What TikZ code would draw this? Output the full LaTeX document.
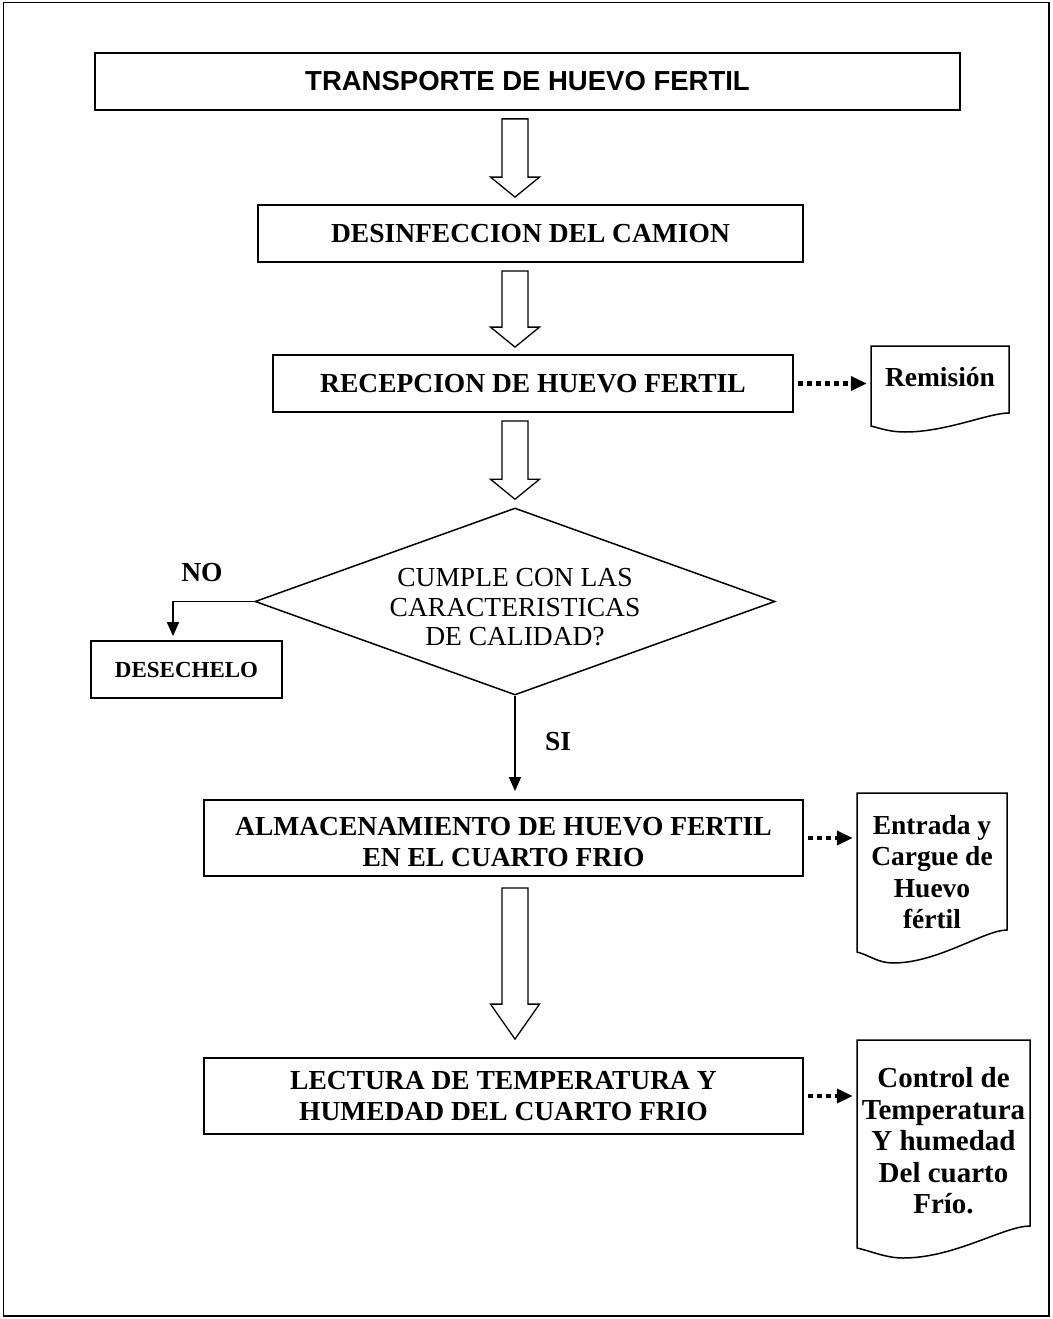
\documentclass[tikz,border=0pt]{standalone}
\usepackage{fontspec}
\setmainfont{Liberation Serif}
\newfontfamily\titlefont{Liberation Sans}
\usetikzlibrary{shapes.geometric,calc,arrows.meta}

% document symbol: flat top, wavy bottom (left, top, right, right-bottom, left-bottom, trough x, trough y)
\newcommand{\docoutline}[7]{%
  \draw[docline] (#1,#2) -- (#3,#2) -- (#3,#4)
    .. controls ({#3-0.15*(#3-#1)},#4) and ({#6+0.30*(#3-#1)},#7) .. (#6,#7)
    .. controls ({#6-0.10*(#3-#1)},#7) and ({#1+0.08*(#3-#1)},{#5+3}) .. (#1,#5) -- cycle;}

% hollow block arrow between two stacked nodes (from, to, top gap, tip gap, head length)
\newcommand{\blockarrow}[5]{%
  \draw[hollow] let \p1=(#1.south -| dia.south), \p2=(#2.north -| dia.south) in
    ({\x1-13pt},{\y1-#3pt}) -- ({\x1+13pt},{\y1-#3pt}) -- ({\x1+13pt},{\y2+#4pt+#5pt})
    -- ({\x1+24.5pt},{\y2+#4pt+#5pt}) -- ({\x1},{\y2+#4pt})
    -- ({\x1-24.5pt},{\y2+#4pt+#5pt}) -- ({\x1-13pt},{\y2+#4pt+#5pt}) -- cycle;}

\begin{document}
\begin{tikzpicture}[x=1pt,y=-1pt,
  procbox/.style={draw, line width=1.8pt, align=center, inner sep=0pt,
    font=\fontsize{27.5}{31}\selectfont\bfseries},
  doctext/.style={align=center, inner sep=0pt,
    font=\fontsize{27.5}{31.5}\selectfont\bfseries},
  docline/.style={line width=1.5pt, line join=miter},
  hollow/.style={line width=1.3pt, fill=white, line join=miter},
  flow/.style={line width=1.6pt, -{Triangle[length=14pt,width=12pt]}},
  dotflow/.style={line width=4.5pt, dash pattern=on 5pt off 4pt,
    -{Triangle[length=16pt,width=14pt]}},
  lbl/.style={font=\fontsize{27.5}{31}\selectfont\bfseries, inner sep=0pt}]
\useasboundingbox (0,0) rectangle (1052,1319);

% outer frame
\draw[line width=1.5pt] (3.5,2.5) rectangle (1049,1316);

% process boxes
\node[procbox, minimum width=865pt, minimum height=57pt,
      font=\titlefont\fontsize{27.5}{31}\selectfont\bfseries] (transp) at (527.5,81.5)
  {TRANSPORTE DE HUEVO FERTIL};
\node[procbox, minimum width=545pt, minimum height=57pt] (desinf) at (530.5,233.5)
  {DESINFECCION DEL CAMION};
\node[procbox, minimum width=520pt, minimum height=57pt] (recep) at (533,383.5)
  {RECEPCION DE HUEVO FERTIL};

% decision
\node[draw, line width=1.5pt, shape=diamond, inner sep=0pt,
      minimum width=520pt, minimum height=187pt] (dia) at (515,601.5) {};
\node[align=center, inner sep=0pt, font=\fontsize{27.5}{29.5}\selectfont]
  (diatext) at (515,607.5) {CUMPLE CON LAS\\CARACTERISTICAS\\DE CALIDAD?};

\node[procbox, minimum width=191pt, minimum height=57pt,
      font=\fontsize{23}{27}\selectfont\bfseries] (desech) at (186.5,669.5) {DESECHELO};
\node[procbox, minimum width=599pt, minimum height=76pt] (almac) at (503.5,838) {};
\node[align=center, inner sep=0pt, font=\fontsize{27.5}{31}\selectfont\bfseries]
  (almactext) at (503.5,842) {ALMACENAMIENTO DE HUEVO FERTIL\\EN EL CUARTO FRIO};
\node[procbox, minimum width=599pt, minimum height=76pt] (lect) at (503.5,1096)
  {LECTURA DE TEMPERATURA Y\\HUMEDAD DEL CUARTO FRIO};

% documents
\docoutline{871}{346}{1009}{413}{426}{905}{432}
\node[doctext, minimum width=138pt] (rem) at (940,377) {Remisión};
\docoutline{857}{793}{1007}{930}{952}{893}{963}
\node[doctext, minimum width=150pt] (entr) at (932,872) {Entrada y\\Cargue de\\Huevo\\fértil};
\docoutline{857}{1040}{1030}{1226}{1248}{903}{1258}
\node[doctext, minimum width=173pt, font=\fontsize{29}{31.5}\selectfont\bfseries]
  (ctrl) at (943.5,1141)
  {Control de\\Temperatura\\Y humedad\\Del cuarto\\Frío.};

% hollow flow arrows
\blockarrow{transp}{desinf}{8}{7}{20}
\blockarrow{desinf}{recep}{8}{7}{20}
\blockarrow{recep}{dia}{8}{8}{20}
\blockarrow{almac}{lect}{11}{18}{35}

% decision branches
\coordinate (nocorner) at (173,601.5);
\draw[flow] (dia.west) -- (nocorner) -- ([yshift=4pt]nocorner |- desech.north);
\node[lbl] (nolbl) at (202,573) {NO};
\draw[flow, shorten >=8pt] (dia.south) -- (almac.north -| dia.south);
\node[lbl] (silbl) at (558,742) {SI};

% dotted links to documents
\draw[dotflow, shorten <=4pt, shorten >=4pt] (recep.east) -- (rem.west |- recep.east);
\draw[dotflow, shorten <=4pt, shorten >=4pt] (almac.east) -- (entr.west |- almac.east);
\draw[dotflow, shorten <=4pt, shorten >=4pt] (lect.east) -- (ctrl.west |- lect.east);
\end{tikzpicture}
\end{document}
